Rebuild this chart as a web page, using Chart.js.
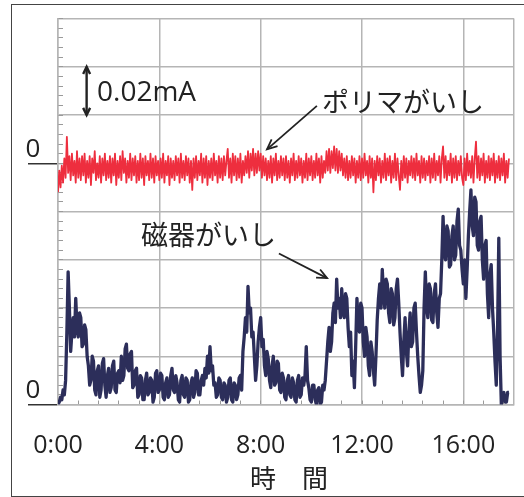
<!DOCTYPE html>
<html><head><meta charset="utf-8">
<script src="https://cdn.jsdelivr.net/npm/chart.js@4/dist/chart.umd.min.js"></script>
<style>
html,body{margin:0;padding:0;background:#fff;overflow:hidden;width:524px;height:497px}
#frame{position:absolute;left:11px;top:4px;width:600px;height:493px;box-sizing:border-box;border:1.5px solid #444;border-right:none}
#c{position:absolute;left:0;top:0}
</style></head><body>
<div id="frame"></div>
<canvas id="c" width="524" height="497"></canvas>
<script>
// x axis: hours
const xTickValues = [0, 4, 8, 12, 16, 18];
const xTickLabels = ['0:00', '4:00', '8:00', '12:00', '16:00', ''];
// y axis (µA): zero of blue trace at 0, zero of red trace drawn at 100
const yTickValues = [0, 100];
const yTickLabels = ['0', '0'];
const xTitle = ' 時　間';

// 磁器がいし (µA), sampled every 0.05 h
const blueStepHours = 0.05;
const blueValues = [
  0,1, 3,2, 6,4, 10,30, 55,40, 22,30, 36,28, 44,32, 28,38, 36,24,
  25,33, 31,20, 16,8, 10,20, 18,6, 4,14, 16,3, 6,17, 19,8, 3,12,
  15,5, 7,16, 18,6, 5,13, 14,9, 20,10, 12,23, 25,15, 14,21, 22,7,
  8,14, 15,3, 4,12, 11,2, 2,10, 13,4, 5,11, 10,1, 3,13, 14,5,
  6,13, 12,3, 2,9, 11,3, 4,12, 15,6, 5,12, 9,2, 1,10, 12,4,
  3,11, 10,1, 2,9, 11,3, 5,14, 13,4, 4,10, 12,8, 15,11, 20,13,
  24,14, 16,8, 9,3, 4,11, 10,3, 2,9, 8,1, 3,10, 11,2, 1,9,
  8,2, 4,11, 12,6, 22,28, 36,30, 49,38, 40,28, 30,20, 10,16, 26,32,
  36,24, 27,16, 12,22, 19,10, 7,16, 20,8, 9,18, 17,6, 5,13, 11,3,
  2,10, 12,4, 3,11, 9,2, 1,10, 12,3, 4,11, 8,12, 24,10, 7,2,
  1,8, 8,2, 0,6, 7,0, 1,8, 6,10, 18,26, 32,22, 26,38, 42,34,
  52,40, 44,36, 48,38, 36,46, 44,32, 24,30, 12,18, 7,24, 44,34, 30,42,
  40,26, 20,32, 28,16, 12,26, 22,14, 8,20, 35,44, 50,40, 56,46, 40,52,
  50,38, 34,48, 46,33, 36,48, 52,42, 30,20, 12,26, 36,22, 16,30, 38,24,
  26,40, 42,30, 20,12, 5,8, 14,40, 55,40, 36,50, 48,35, 34,46, 50,38,
  32,44, 46,60, 78,62, 60,74, 72,57, 58,70, 74,60, 62,76, 81,66, 64,56,
  50,60, 44,56, 70,80, 89,74, 70,86, 84,66, 64,76, 78,60, 52,66, 68,46,
  36,54, 58,40, 30,18, 8,30, 69,20, 0,4, 5,1, 1,5, 5
];

// ポリマがいし (µA, relative to its own zero), sampled every 0.05 h
const redStepHours = 0.05;
const redValues = [
  -12,-3,-10,-1,-8,2,-6,11,-4,3,-7,4,-5,1,-8,5,-6,2,-7,3,
  -5,4,-8,1,-6,3,-9,2,-4,5,-7,0,-6,3,-8,2,-5,4,-7,1,
  -6,3,-8,2,-5,4,-9,1,-6,3,-7,5,-4,2,-8,1,-6,4,-7,2,
  -5,3,-8,1,-7,4,-6,2,-9,3,-5,1,-7,4,-6,2,-8,3,-5,1,
  -7,2,-6,4,-8,1,-5,3,-9,2,-6,1,-7,3,-5,2,-8,4,-6,1,
  -7,3,-5,2,-8,1,-11,2,-6,3,-7,1,-5,4,-8,2,-6,3,-9,1,
  -6,2,-7,4,-5,1,-8,3,-6,2,-7,3,-5,1,6,-6,2,-8,4,-5,
  3,-7,2,-6,4,-8,1,-5,3,-4,5,-6,4,-3,6,-5,4,-4,5,-3,
  4,-6,3,-5,2,-7,1,-6,3,-8,2,-5,4,-7,1,-6,3,-5,2,-7,
  3,-6,1,-8,2,-5,4,-7,1,-6,3,-5,2,-8,1,-6,4,-7,2,-5,
  3,-7,1,-6,4,-5,2,-8,3,-6,1,-4,5,-3,6,-4,5,-2,7,-3,
  6,-4,5,-3,4,-5,2,-6,3,-7,1,-6,3,-5,2,-8,1,-6,3,-7,
  2,-6,4,-5,1,-8,3,-6,2,-12,1,-7,3,-5,2,-8,1,-6,4,-7,
  2,-5,3,-8,1,-6,4,-7,2,-5,-11,1,-7,3,-6,2,-8,1,-5,3,
  -6,2,-7,4,-5,1,-8,3,-6,2,-7,1,-5,3,-8,2,-6,4,-7,1,
  -5,3,-8,2,7,-6,3,-7,1,-5,4,-8,2,-6,3,-7,1,-5,3,-6,
  -9,2,-7,4,-5,1,-6,3,-8,2,9,-6,3,-7,2,-5,4,-8,1,-6,
  3,-7,2,-5,4,-8,1,-6,3,-7,2,-5,4,-8,1,-6,2
];

const noteTexts = ['0.02mA', 'ポリマがいし', '磁器がいし'];

const notesPlugin = {
  id: 'notes',
  afterDatasetsDraw(chart) {
    const {ctx, scales: {x, y}} = chart;
    const P = (h, v) => [x.getPixelForValue(h), y.getPixelForValue(v)];
    const arrow = (a, b, head, ang, both, lw) => {
      ctx.lineWidth = lw;
      ctx.beginPath(); ctx.moveTo(a[0], a[1]); ctx.lineTo(b[0], b[1]); ctx.stroke();
      const tip = (p, q) => {
        const t = Math.atan2(p[1] - q[1], p[0] - q[0]);
        ctx.beginPath();
        ctx.moveTo(p[0] - head * Math.cos(t - ang), p[1] - head * Math.sin(t - ang));
        ctx.lineTo(p[0], p[1]);
        ctx.lineTo(p[0] - head * Math.cos(t + ang), p[1] - head * Math.sin(t + ang));
        ctx.stroke();
      };
      tip(b, a);
      if (both) tip(a, b);
    };
    ctx.save();
    ctx.fillStyle = '#222'; ctx.strokeStyle = '#222';
    ctx.lineCap = 'butt'; ctx.lineJoin = 'miter';
    ctx.textBaseline = 'middle'; ctx.textAlign = 'left';
    arrow(P(1.13, 120), P(1.13, 140), 8, 0.45, true, 2.4);
    ctx.font = '28px "Open Sans"';
    let p = P(1.54, 129); ctx.fillText(noteTexts[0], p[0], p[1]);
    ctx.font = '27px "Noto Sans CJK JP"';
    p = P(10.42, 125.5); ctx.fillText(noteTexts[1], p[0], p[1]);
    p = P(3.28, 70.2); ctx.fillText(noteTexts[2], p[0], p[1]);
    arrow(P(10.22, 123.8), P(8.25, 105.8), 11, 0.42, false, 1.8);
    arrow(P(8.72, 62.6), P(10.62, 52.4), 11, 0.42, false, 1.8);
    ctx.restore();
  }
};

const gridGrey = '#b5b5b5';
new Chart(document.getElementById('c'), {
  type: 'line',
  data: {
    datasets: [
      {
        label: noteTexts[1],
        data: redValues.map((v, i) => ({x: i * redStepHours, y: v})),
        yAxisID: 'yRed',
        borderColor: '#ee2e3e', borderWidth: 1.8, pointRadius: 0,
        borderJoinStyle: 'round', tension: 0
      },
      {
        label: noteTexts[2],
        data: blueValues.map((v, i) => ({x: i * blueStepHours, y: v})),
        yAxisID: 'y',
        borderColor: '#2c2e5a', borderWidth: 3.3, pointRadius: 0,
        borderJoinStyle: 'round', tension: 0
      }
    ]
  },
  options: {
    responsive: false, animation: false, devicePixelRatio: 1,
    layout: {padding: {left: 25.5, top: 15, right: 10, bottom: 0}},
    plugins: {legend: {display: false}, tooltip: {enabled: false}},
    scales: {
      x: {
        type: 'linear', position: 'bottom', min: 0, max: 18,
        afterBuildTicks: s => { s.ticks = xTickValues.map(v => ({value: v})); },
        afterFit: s => { s.height = 92.5; s.paddingLeft = 0; s.paddingRight = 0; },
        ticks: {
          callback: (v, i) => xTickLabels[i] ?? '',
          font: {family: 'Open Sans', size: 25}, color: '#222',
          padding: 26, autoSkip: false, maxRotation: 0
        },
        grid: {color: gridGrey, lineWidth: 1.5, drawTicks: false},
        border: {color: gridGrey, width: 1.5},
        title: {
          display: true, text: xTitle,
          font: {family: 'Noto Sans CJK JP', size: 26}, color: '#222',
          padding: {top: 0, bottom: 3}
        }
      },
      xMinor: {
        type: 'linear', position: 'bottom', min: 0, max: 18,
        afterFit: s => { s.paddingLeft = 0; s.paddingRight = 0; },
        ticks: {display: false, stepSize: 0.8, includeBounds: false},
        grid: {color: '#9a9a9a', lineWidth: 1, drawTicks: false},
        border: {display: false, dash: c => [0, c.chart.chartArea.height - 4, 4, 3000]}
      },
      y: {
        type: 'linear', position: 'left', min: 0, max: 160,
        afterFit: s => { s.width = 32.5; },
        ticks: {
          stepSize: 20,
          callback: v => { const k = yTickValues.indexOf(v); return k < 0 ? '' : yTickLabels[k]; },
          crossAlign: 'far', labelOffset: -14,
          font: {family: 'Open Sans', size: 26}, color: '#222'
        },
        grid: {
          color: gridGrey, lineWidth: 1.5, tickLength: 30, tickWidth: 1.5,
          tickColor: c => (c.tick && yTickValues.includes(c.tick.value)) ? '#333' : 'rgba(0,0,0,0)'
        },
        border: {color: gridGrey, width: 1.5}
      },
      yMinor: {
        type: 'linear', position: 'left', min: 0, max: 160,
        ticks: {display: false, stepSize: 4},
        grid: {color: '#9a9a9a', lineWidth: 1, drawTicks: false},
        border: {display: false, dash: [5, 3000]}
      },
      yRed: {type: 'linear', position: 'left', display: false, min: -100, max: 60}
    }
  },
  plugins: [notesPlugin]
});
</script>
</body></html>
